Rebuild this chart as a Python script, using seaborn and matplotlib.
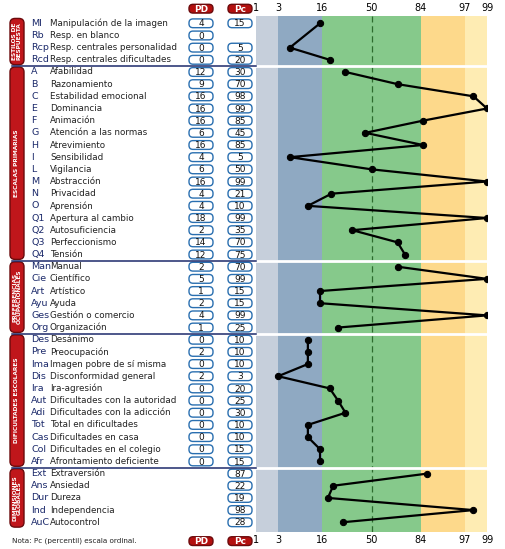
import numpy as np
import pandas as pd
import seaborn as sns
import matplotlib.pyplot as plt
from matplotlib.patches import FancyBboxPatch
from statistics import NormalDist

# data
groups = ['ESTILOS DE\nRESPUESTA', 'ESCALAS PRIMARIAS', 'PREFERENCIAS\nOCUPACIONALES',
          'DIFICULTADES ESCOLARES', 'DIMENSIONES\nGLOBALES']
group_sizes = [4, 16, 6, 11, 5]
codes = ['MI', 'Rb', 'Rcp', 'Rcd',
         'A', 'B', 'C', 'E', 'F', 'G', 'H', 'I', 'L', 'M', 'N', 'O', 'Q1', 'Q2', 'Q3', 'Q4',
         'Man', 'Cie', 'Art', 'Ayu', 'Ges', 'Org',
         'Des', 'Pre', 'Ima', 'Dis', 'Ira', 'Aut', 'Adi', 'Tot', 'Cas', 'Col', 'Afr',
         'Ext', 'Ans', 'Dur', 'Ind', 'AuC']
names = ['Manipulación de la imagen', 'Resp. en blanco', 'Resp. centrales personalidad',
         'Resp. centrales dificultades',
         'Afabilidad', 'Razonamiento', 'Estabilidad emocional', 'Dominancia', 'Animación',
         'Atención a las normas', 'Atrevimiento', 'Sensibilidad', 'Vigilancia', 'Abstracción',
         'Privacidad', 'Aprensión', 'Apertura al cambio', 'Autosuficiencia', 'Perfeccionismo',
         'Tensión',
         'Manual', 'Científico', 'Artístico', 'Ayuda', 'Gestión o comercio', 'Organización',
         'Desánimo', 'Preocupación', 'Imagen pobre de sí misma', 'Disconformidad general',
         'Ira-agresión', 'Dificultades con la autoridad', 'Dificultades con la adicción',
         'Total en dificultades', 'Dificultades en casa', 'Dificultades en el colegio',
         'Afrontamiento deficiente',
         'Extraversión', 'Ansiedad', 'Dureza', 'Independencia', 'Autocontrol']
pd_vals = [4, 0, 0, 0,
           12, 9, 16, 16, 16, 6, 16, 4, 6, 16, 4, 4, 18, 2, 14, 12,
           2, 5, 1, 2, 4, 1,
           0, 2, 0, 2, 0, 0, 0, 0, 0, 0, 0,
           None, None, None, None, None]
pc_vals = [15, None, 5, 20,
           30, 70, 98, 99, 85, 45, 85, 5, 50, 99, 21, 10, 99, 35, 70, 75,
           70, 99, 15, 15, 99, 25,
           10, 10, 10, 3, 20, 25, 30, 10, 10, 15, 15,
           87, 22, 19, 98, 28]
ticks = [1, 3, 16, 50, 84, 97, 99]

nd = NormalDist()
def z(p):
    return nd.inv_cdf(p / 100.0)

group_id = np.repeat(np.arange(len(groups)), group_sizes)
df = pd.DataFrame({'code': codes, 'name': names, 'pd': pd_vals, 'pc': pc_vals,
                   'group': group_id})
df['row'] = np.arange(len(df))
df['zx'] = [z(min(max(v, 1), 99)) if v is not None and not pd.isna(v) else np.nan for v in df['pc']]

fig = plt.figure(figsize=(5.05, 5.49), dpi=100)
W, H = 505, 549
top, bot = 16, 532
ylim = (len(df) - 0.5 + 0.3, -0.6)
ax = fig.add_axes([256 / W, (H - bot) / H, 231 / W, (bot - top) / H])
axt = fig.add_axes([0, (H - bot) / H, 256 / W, (bot - top) / H], sharey=ax)

# bands
bands = [(1, 3, '#c6cfdb'), (3, 16, '#8fa9c2'), (16, 84, '#86c98b'),
         (84, 97, '#fdd98b'), (97, 99, '#feecb3')]
for a, b, c in bands:
    ax.axvspan(z(a), z(b), color=c, lw=0, zorder=0)
ax.axvline(0, color='#2e6b2e', ls=(0, (5, 3)), lw=0.9, zorder=1)
ax.set_xlim(z(1), z(99))
ax.set_ylim(*ylim)
ax.set_xticks([z(t) for t in ticks])
ax.set_xticklabels([str(t) for t in ticks])
ax.tick_params(labeltop=True, labelbottom=True, length=0, labelsize=7, pad=2)
ax.set_yticks([])
for s in ax.spines.values():
    s.set_visible(False)

bounds = np.cumsum(group_sizes)[:-1] - 0.5
for b in bounds:
    ax.axhline(b, color='white', lw=2, zorder=2)

for g in range(len(groups)):
    sub = df[(df['group'] == g) & df['zx'].notna()]
    sns.lineplot(data=sub, x='zx', y='row', sort=False, estimator=None, color='black',
                 lw=1.6, marker='o', markersize=4.5, markeredgecolor='black', ax=ax, zorder=3)
ax.set_xlabel('')
ax.set_ylabel('')

# table
axt.set_xlim(0, 256)
axt.axis('off')
navy = '#1c2a6b'
for b in bounds:
    axt.plot([12, 256], [b, b], color=navy, lw=1.1, clip_on=False)

def pill(x0, x1, y, txt, face, ec, tc, bold=False):
    axt.add_patch(FancyBboxPatch((x0, y - 0.36), x1 - x0, 0.72,
                                 boxstyle='round,pad=0,rounding_size=4',
                                 mutation_aspect=0.08, fc=face, ec=ec, lw=1.0, clip_on=False))
    axt.text((x0 + x1) / 2, y + 0.05, txt, ha='center', va='center', fontsize=6.5,
             color=tc, fontweight='bold' if bold else 'normal', clip_on=False)

for _, r in df.iterrows():
    y = r['row']
    axt.text(31, y, r['code'], fontsize=6.8, color=navy, va='center')
    axt.text(50, y, r['name'], fontsize=6.3, color='#222222', va='center')
    if r['pd'] is not None and not pd.isna(r['pd']):
        pill(189, 213, y, str(int(r['pd'])), 'white', '#2a6fb0', '#111111')
    if r['pc'] is not None and not pd.isna(r['pc']):
        pill(228, 252, y, str(int(r['pc'])), 'white', '#2a6fb0', '#111111')

start = 0
for g, n in zip(groups, group_sizes):
    y0, y1 = start - 0.4, start + n - 0.6
    axt.add_patch(FancyBboxPatch((10, y0), 14, y1 - y0, boxstyle='round,pad=0,rounding_size=5',
                                 mutation_aspect=0.08, fc='#c0161b', ec='#6b0a0c', lw=1.0))
    axt.text(17, (y0 + y1) / 2, g, rotation=90, ha='center', va='center', color='white',
             fontsize=4.2, fontweight='bold', linespacing=0.9)
    start += n

for yy in (ylim[1] - 0.6, ylim[0] + 0.75):
    pill(189, 213, yy, 'PD', '#b3100f', '#6b0a0c', 'white', bold=True)
    pill(228, 252, yy, 'Pc', '#b3100f', '#6b0a0c', 'white', bold=True)
axt.text(12, ylim[0] + 0.75, 'Nota: Pc (percentil) escala ordinal.', fontsize=5.2,
         color='#222222', va='center', clip_on=False)

fig.savefig('out.png', dpi=100)
